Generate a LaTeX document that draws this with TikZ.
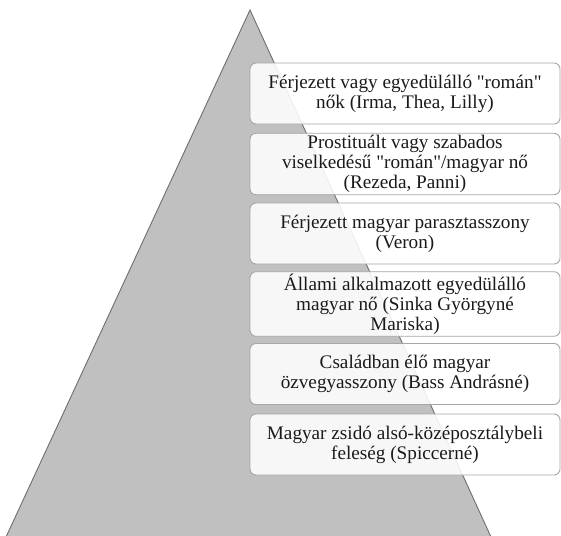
\documentclass[tikz,border=0pt]{standalone}
\usepackage{fontspec}
\setmainfont{Liberation Serif}[Ligatures=TeXOff]
\definecolor{trifill}{HTML}{C0C0C0}
\definecolor{triedge}{HTML}{6E6E6E}
\definecolor{boxedge}{HTML}{A6A6A6}
\definecolor{txt}{HTML}{1A1A1A}
\begin{document}
\begin{tikzpicture}[x=1pt,y=-1pt,
  levelbox/.style={draw=boxedge, line width=0.9pt, fill=white, fill opacity=0.88, text opacity=1,
    rounded corners=6pt, minimum width=310pt, minimum height=61pt, align=center,
    text=txt, font=\fontsize{19.2}{20}\selectfont, inner sep=2pt}]
\useasboundingbox (0,0) rectangle (561,535);
\begin{scope}
\clip (0,0) rectangle (561,535);
\filldraw[fill=trifill, draw=triedge, line width=0.9pt] (250,10) -- (491,537) -- (6,537) -- cycle;
\end{scope}
\node[levelbox] (b1) at (405,93.5) {Férjezett vagy egyedülálló "román"\\nők (Irma, Thea, Lilly)};
\node[levelbox] (b2) at (405,164) {Prostituált vagy szabados\\viselkedésű "román"/magyar nő\\(Rezeda, Panni)};
\node[levelbox] (b3) at (405,233.5) {Férjezett magyar parasztasszony\\(Veron)};
\node[levelbox] (b4) at (405,304) {Állami alkalmazott egyedülálló\\magyar nő (Sinka Györgyné\\Mariska)};
\node[levelbox] (b5) at (405,374) {Családban élő magyar\\özvegyasszony (Bass Andrásné)};
\node[levelbox] (b6) at (405,444.5) {Magyar zsidó alsó-középosztálybeli\\feleség (Spiccerné)};
\end{tikzpicture}
\end{document}
